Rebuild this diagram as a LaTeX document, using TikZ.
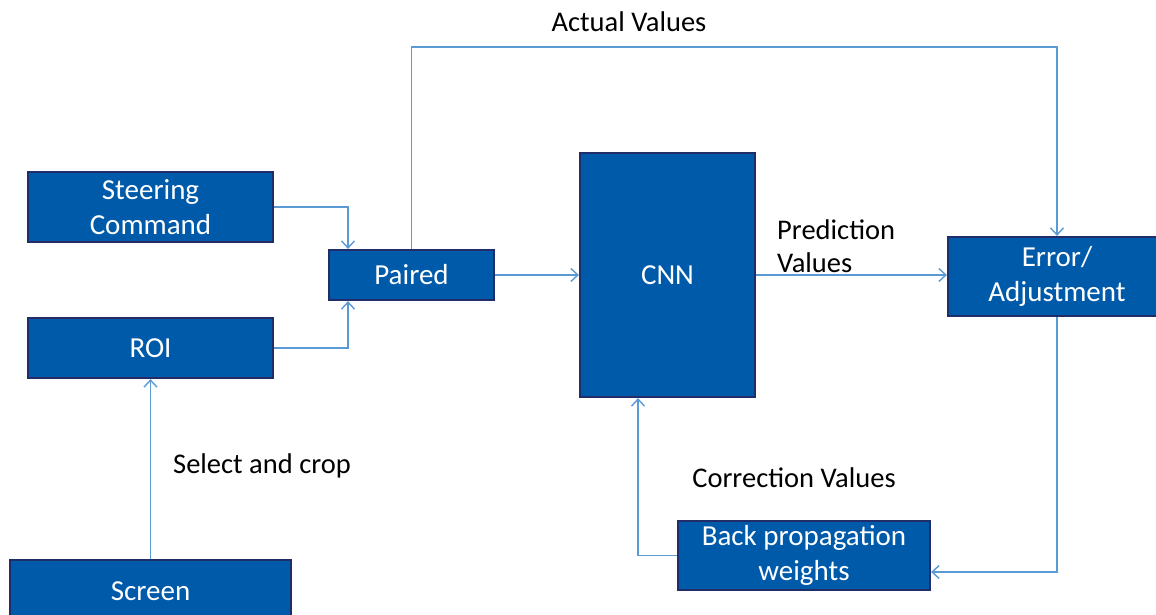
\documentclass[tikz,border=0pt]{standalone}
\usepackage{fontspec}
\setmainfont{Carlito}
\usetikzlibrary{arrows.meta}
\definecolor{boxfill}{RGB}{0,90,170}
\definecolor{boxline}{RGB}{32,45,105}
\definecolor{conncol}{RGB}{91,155,213}
\begin{document}
\begin{tikzpicture}[x=1pt,y=-1pt,
  box/.style={draw=boxline, line width=2.2pt, fill=boxfill, text=white, align=center, inner sep=0pt,
    font=\fontsize{29}{35}\selectfont},
  conn/.style={draw=conncol, line width=1.4pt, -{Straight Barb[length=7pt,width=13pt,line width=1.4pt]}},
  lbl/.style={text=black, align=left, inner sep=0pt, font=\fontsize{28.5}{33}\selectfont}]
\useasboundingbox (0,0) rectangle (1156,615);
\begin{scope}
\clip (0,0) rectangle (1156,615);
\node[box, minimum width=245pt, minimum height=70pt] (steer) at (150.5,207) {Steering\\Command};
\node[box, minimum width=245pt, minimum height=60pt] (roi) at (150.5,348) {ROI};
\node[box, minimum width=281pt, minimum height=62pt] (screen) at (150.5,591) {Screen};
\node[box, minimum width=165pt, minimum height=50pt] (paired) at (411.5,275) {Paired};
\node[box, minimum width=175pt, minimum height=244pt] (cnn) at (667.5,275) {CNN};
\node[box, minimum width=218pt, minimum height=79pt] (err) at (1057,276.5) {Error/\\Adjustment};
\node[box, minimum width=252pt, minimum height=69pt] (bp) at (804,555.5) {Back propagation\\weights};
\coordinate (top) at (411.5,47);

\draw[conn] (steer.east) -| ([xshift=-63.5pt]paired.north);
\draw[conn] (roi.east) -| ([xshift=-63.5pt]paired.south);
\draw[conn] (screen.north) -- (roi.south);
\draw[conn] (paired.north) -- (top) -| (err.north);
\draw[conn] (paired.east) -- (cnn.west);
\draw[conn] (cnn.east) -- (cnn.east -| err.west);
\draw[conn] (err.south) |- ([yshift=-16.5pt]bp.east);
\draw[conn] (bp.west) -| ([xshift=-29.5pt]cnn.south);

\node[lbl] (actual) at (629,22) {Actual Values};
\node[lbl, anchor=west] (pred) at (777,246) {Prediction\\Values};
\node[lbl] (sel) at (262,466) {Select and crop};
\node[lbl] (corr) at (794,478) {Correction Values};
\end{scope}
\end{tikzpicture}
\end{document}
